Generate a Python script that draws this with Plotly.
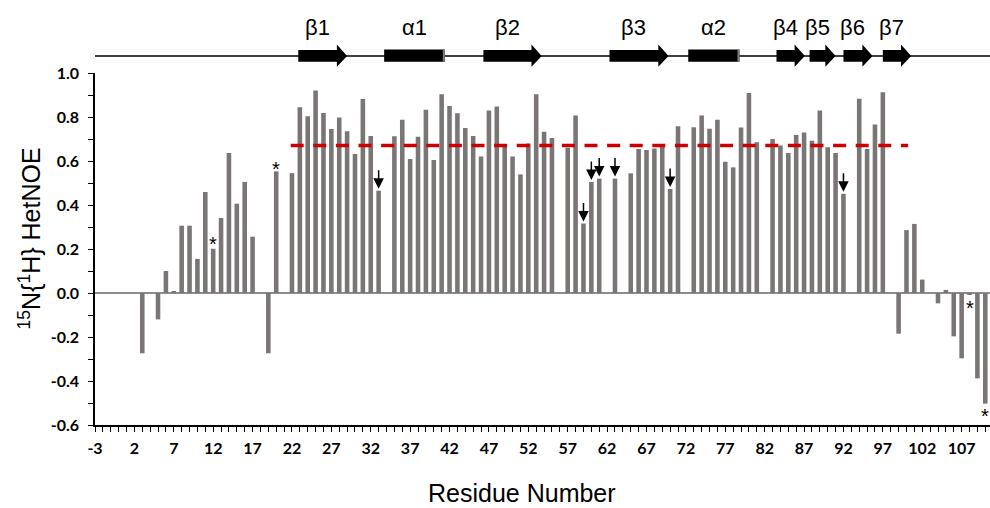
import plotly.graph_objects as go

# ---------------- data ----------------
residues = [3, 5, 6, 7, 8, 9, 10, 11, 12, 13, 14, 15, 16, 17, 19, 20,
            22, 23, 24, 25, 26, 27, 28, 29, 30, 31, 32, 33, 35, 36, 37, 38,
            39, 40, 41, 42, 43, 44, 45, 46, 47, 48, 49, 50, 51, 52, 53, 54,
            55, 57, 58, 59, 60, 61, 63, 65, 66, 67, 68, 69, 70, 71, 73, 74,
            75, 76, 77, 78, 79, 80, 81, 83, 84, 85, 86, 87, 88, 89, 90, 91,
            92, 94, 95, 96, 97, 99, 100, 101, 102, 104, 105, 106, 107, 108,
            109, 110]
hetnoe = [-0.274, -0.120, 0.100, 0.008, 0.306, 0.306, 0.155, 0.459, 0.201, 0.341,
          0.636, 0.406, 0.505, 0.256, -0.274, 0.553,
          0.545, 0.844, 0.803, 0.921, 0.818, 0.745, 0.798, 0.735, 0.632, 0.882,
          0.714, 0.465, 0.712, 0.788, 0.609, 0.710,
          0.833, 0.605, 0.903, 0.850, 0.817, 0.750, 0.714, 0.620, 0.830, 0.848,
          0.664, 0.620, 0.539, 0.680, 0.903, 0.733,
          0.705, 0.660, 0.807, 0.316, 0.505, 0.520, 0.520, 0.544, 0.655, 0.650,
          0.657, 0.673, 0.473, 0.758, 0.753, 0.807,
          0.747, 0.788, 0.597, 0.571, 0.752, 0.909, 0.685, 0.700, 0.670, 0.636,
          0.718, 0.729, 0.692, 0.830, 0.662, 0.636,
          0.451, 0.883, 0.654, 0.766, 0.913, -0.185, 0.286, 0.314, 0.061, -0.047,
          0.014, -0.197, -0.297, -0.008, -0.388, -0.503]

threshold = 0.67
threshold_span = [21.84, 100.2]

arrow_residues = [33, 59, 60, 61, 63, 70, 92]
star_residues = [12, 20, 108, 110]

ss_labels = ["β1", "α1", "β2", "β3", "α2", "β4", "β5", "β6", "β7"]
ss_types = ["strand", "helix", "strand", "strand", "helix", "strand", "strand", "strand", "strand"]
ss_start = [22.8, 33.7, 46.3, 62.3, 72.3, 83.5, 87.7, 92.0, 97.0]
ss_end = [29.0, 41.4, 53.7, 69.8, 78.8, 87.1, 91.0, 95.7, 100.6]

x_tickvals = list(range(-3, 108, 5))
x_ticktext = [str(v) for v in x_tickvals]
y_tickvals = [-0.6, -0.4, -0.2, 0.0, 0.2, 0.4, 0.6, 0.8, 1.0]
y_ticktext = ["-0.6", "-0.4", "-0.2", "0.0", "0.2", "0.4", "0.6", "0.8", "1.0"]

# ---------------- style ----------------
BAR_COLOR = "#7a7675"
TICK_FONT = dict(family="Lato", size=16, color="black", weight="bold")
TITLE_FONT = dict(family="Liberation Sans", size=25, color="black")
value_of = dict(zip(residues, hetnoe))

fig = go.Figure()
fig.add_trace(go.Bar(x=residues, y=hetnoe, width=0.58,
                     marker=dict(color=BAR_COLOR, line=dict(width=0)),
                     hoverinfo="x+y"))
fig.add_trace(go.Scatter(x=threshold_span, y=[threshold, threshold], mode="lines",
                         line=dict(color="#cc0000", width=3.5, dash="13px,9.6px"),
                         hoverinfo="skip"))

annotations = []
# arrows
for r in arrow_residues:
    annotations.append(dict(x=r, y=value_of[r], xref="x", yref="y", text="",
                            showarrow=True, ax=0, ay=-22, arrowhead=2,
                            arrowsize=1.4, arrowwidth=1.5, arrowcolor="black",
                            standoff=2))
# stars
star_shift = {12: 5, 20: 2, 108: -13, 110: -12}
for r in star_residues:
    annotations.append(dict(x=r, y=value_of[r], xref="x", yref="y", text="*",
                            showarrow=False, yanchor="middle",
                            yshift=star_shift[r],
                            font=dict(family="Liberation Sans", size=20, color="black")))

# secondary structure
Y_LINE = 1.0483
BODY = (1.0321, 1.0653)
HEAD = (1.018, 1.081)
HELIX = (1.0321, 1.0670)
HEAD_LEN = 1.3
shapes = [dict(type="line", xref="paper", yref="paper", x0=0, x1=1,
               y0=Y_LINE, y1=Y_LINE, line=dict(color="black", width=1.3))]
for lab, t, s, e in zip(ss_labels, ss_types, ss_start, ss_end):
    if t == "strand":
        h = e - HEAD_LEN
        path = (f"M{s},{BODY[0]} L{h},{BODY[0]} L{h},{HEAD[0]} L{e},{Y_LINE} "
                f"L{h},{HEAD[1]} L{h},{BODY[1]} L{s},{BODY[1]} Z")
        shapes.append(dict(type="path", xref="x", yref="paper", path=path,
                           fillcolor="black", line=dict(width=0)))
        lx = (s + h) / 2
    else:
        shapes.append(dict(type="rect", xref="x", yref="paper", x0=s, x1=e,
                           y0=HELIX[0], y1=HELIX[1], fillcolor="black",
                           line=dict(width=0)))
        shapes.append(dict(type="rect", xref="x", yref="paper", x0=e - 0.25, x1=e,
                           y0=HELIX[0], y1=HELIX[1], fillcolor="#808080",
                           line=dict(width=0)))
        lx = (s + e) / 2
    annotations.append(dict(x=lx, y=1.128, xref="x", yref="paper", text=lab,
                            showarrow=False, yanchor="middle",
                            font=dict(family="Liberation Sans", size=22, color="black")))

# axis titles
annotations.append(dict(x=0.477, y=-0.193, xref="paper", yref="paper",
                        text="Residue Number", showarrow=False,
                        xanchor="center", yanchor="middle", font=TITLE_FONT))
annotations.append(dict(x=-0.0726, y=0.53, xref="paper", yref="paper",
                        text="<sup>15</sup>N{<sup>1</sup>H} HetNOE", showarrow=False,
                        textangle=-90, xanchor="center", yanchor="middle",
                        font=TITLE_FONT))

fig.update_layout(
    width=990, height=508,
    margin=dict(l=95, r=0, t=73, b=83),
    plot_bgcolor="white", paper_bgcolor="white",
    showlegend=False,
    shapes=shapes, annotations=annotations,
    xaxis=dict(range=[-3, 110.6], tickmode="array", tickvals=x_tickvals,
               ticktext=x_ticktext, ticks="outside", ticklen=5, tickwidth=1,
               tickcolor="black", showline=True, linecolor="black", linewidth=1.5,
               showgrid=False, zeroline=False, tickfont=TICK_FONT,
               ticklabelstandoff=3, automargin=False,
               minor=dict(tickmode="linear", tick0=-3, dtick=1, ticks="outside",
                          ticklen=5, tickwidth=1, tickcolor="black", showgrid=False)),
    yaxis=dict(range=[-0.6, 1.0], tickmode="array", tickvals=y_tickvals,
               ticktext=y_ticktext, ticks="outside", ticklen=5, tickwidth=1,
               tickcolor="black", showline=True, linecolor="black", linewidth=1.5,
               showgrid=False, zeroline=True, zerolinecolor="#8c8c8c",
               zerolinewidth=2, tickfont=TICK_FONT, ticklabelstandoff=6,
               automargin=False,
               minor=dict(tickmode="linear", tick0=-0.6, dtick=0.1, ticks="outside",
                          ticklen=5, tickwidth=1, tickcolor="black", showgrid=False)),
)

# remove the default 8px page margin so the 990x508 figure fills the window exactly
fig.write_html("out.html",
               config={"displayModeBar": False},
               post_script="document.body.style.margin='0px';"
                           "document.body.style.overflow='hidden';")
